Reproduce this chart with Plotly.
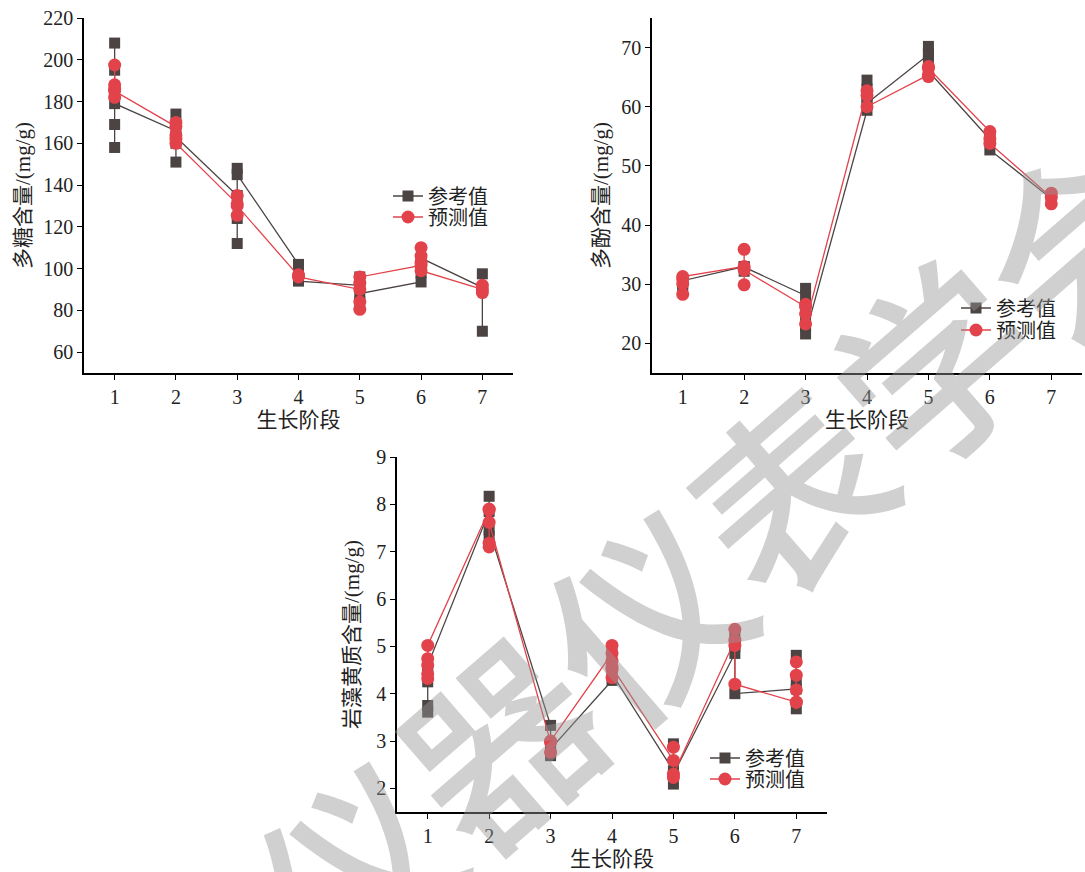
import plotly.graph_objects as go

# ---------------- data ----------------
stages = [1, 2, 3, 4, 5, 6, 7]

# polysaccharide (mg/g): samples per stage, in drawing order
poly_sugar_ref = [[208, 195, 158, 169, 179], [166, 174, 151, 160, 163], [135, 112, 124, 148, 145],
                  [102, 97, 94], [92, 96, 84, 88], [93.6, 98, 102, 105], [91, 97.5, 70, 90]]
poly_sugar_pred = [[182, 197.5, 188, 186, 185], [168, 170, 164, 162, 160], [131, 135, 125.5, 130],
                   [96.5, 97, 96], [90, 84, 80.5, 93, 96], [101.5, 110, 106, 103, 99], [90, 92, 88.5]]

# polyphenol (mg/g)
poly_phenol_ref = [[30.1, 29.5, 30.6], [33.0, 32.2, 32.9], [28.1, 29.3, 26.5, 24.5, 22.8, 21.6],
                   [59.4, 64.5, 63.0, 61.5, 60.6], [68.8, 70.2, 69.0, 67.6, 66.0], [54.5, 55.0, 52.7],
                   [44.5, 44.0]]
poly_phenol_pred = [[28.3, 30.1, 30.9, 31.3], [33.0, 35.9, 29.9, 32.4], [26.2, 26.6, 25.0, 23.3],
                    [62.7, 61.9, 60.0], [65.4, 65.1, 66.8, 66.5], [55.8, 54.6, 53.8], [44.7, 45.4, 43.6]]

# fucoxanthin (mg/g)
fuco_ref = [[4.40, 4.25, 3.75, 3.61, 4.60], [7.85, 8.17, 7.32, 7.46], [3.33, 2.69, 2.76, 2.83],
            [4.28, 4.90, 4.60, 4.42], [2.37, 2.94, 2.09, 2.30], [4.85, 4.99, 5.20, 4.00],
            [4.10, 4.81, 3.68, 4.28]]
fuco_pred = [[4.32, 4.42, 4.60, 4.74, 5.02], [7.88, 7.18, 7.10, 7.90, 7.62], [2.97, 2.76, 3.00],
             [4.85, 5.02, 4.34, 4.50, 4.70, 4.56], [2.59, 2.87, 2.23, 2.30], [5.13, 5.36, 5.02, 4.20],
             [3.82, 4.08, 4.39, 4.67, 3.82]]

series_names = ["参考值", "预测值"]
x_ticks = [1, 2, 3, 4, 5, 6, 7]
y_ticks_sugar = [60, 80, 100, 120, 140, 160, 180, 200, 220]
y_ticks_phenol = [20, 30, 40, 50, 60, 70]
y_ticks_fuco = [2, 3, 4, 5, 6, 7, 8, 9]

# ---------------- style ----------------
W, H = 1085, 872
REF_COLOR = "#4b4442"
PRED_COLOR = "#e2434b"
FONT = "Liberation Serif, Noto Sans CJK SC, serif"


def px_x(p):
    return p / W


def px_y(p):
    return 1 - p / H


def flatten(samples):
    xs, ys = [], []
    for st, vals in zip(stages, samples):
        for v in vals:
            xs.append(st)
            ys.append(v)
    return xs, ys


fig = go.Figure()

panels = [
    (poly_sugar_ref, poly_sugar_pred, "x", "y", "legend", "legend2"),
    (poly_phenol_ref, poly_phenol_pred, "x2", "y2", "legend3", "legend4"),
    (fuco_ref, fuco_pred, "x3", "y3", "legend5", "legend6"),
]
for ref, pred, xa, ya, lg1, lg2 in panels:
    for samples, name, color, sym, size, lg in [
        (ref, series_names[0], REF_COLOR, "square", 11, lg1),
        (pred, series_names[1], PRED_COLOR, "circle", 13, lg2),
    ]:
        xs, ys = flatten(samples)
        fig.add_trace(go.Scatter(
            x=xs, y=ys, mode="lines+markers", name=name,
            line=dict(color=color, width=1.3),
            marker=dict(symbol=sym, size=size, color=color),
            xaxis=xa, yaxis=ya, legend=lg, showlegend=True,
        ))

axis_common = dict(
    showline=True, linecolor="black", linewidth=1.5, mirror=False,
    ticks="outside", ticklen=5, tickwidth=1.3, tickcolor="black",
    showgrid=False, zeroline=False, automargin=False,
    tickfont=dict(family=FONT, size=20, color="#222"),
)
title_font = dict(family=FONT, size=21, color="#222")

layout = dict(
    template="none",
    width=W, height=H, margin=dict(l=0, r=0, t=0, b=0, pad=0),
    paper_bgcolor="white", plot_bgcolor="white",
    font=dict(family=FONT),
)

# panel 1
layout["xaxis"] = dict(axis_common, domain=[px_x(84), px_x(513)], range=[0.5, 7.5], tickvals=x_ticks,
                       anchor="y", title=dict(text="生长阶段", font=title_font, standoff=0))
layout["yaxis"] = dict(axis_common, domain=[px_y(373), px_y(18)], range=[50, 220], tickvals=y_ticks_sugar,
                       anchor="x", title=dict(text="多糖含量/(mg/g)", font=title_font, standoff=7))
# panel 2
layout["xaxis2"] = dict(axis_common, domain=[px_x(652), px_x(1082)], range=[0.5, 7.5], tickvals=x_ticks,
                        anchor="y2", title=dict(text="生长阶段", font=title_font, standoff=2))
layout["yaxis2"] = dict(axis_common, domain=[px_y(373), px_y(18)], range=[15, 75], tickvals=y_ticks_phenol,
                        anchor="x2", title=dict(text="多酚含量/(mg/g)", font=title_font, standoff=7))
# panel 3
layout["xaxis3"] = dict(axis_common, domain=[px_x(397), px_x(827)], range=[0.5, 7.5], tickvals=x_ticks,
                        anchor="y3", title=dict(text="生长阶段", font=title_font, standoff=5))
layout["yaxis3"] = dict(axis_common, domain=[px_y(812), px_y(457)], range=[1.5, 9], tickvals=y_ticks_fuco,
                        anchor="x3", title=dict(text="岩藻黄质含量/(mg/g)", font=title_font, standoff=11))

leg_font = dict(family=FONT, size=20, color="#222")
legend_pos = {
    "legend": (388, 196), "legend2": (388, 217),
    "legend3": (956, 308), "legend4": (956, 330),
    "legend5": (705, 758), "legend6": (705, 779),
}
for key, (lx, ly) in legend_pos.items():
    layout[key] = dict(x=px_x(lx), y=px_y(ly), xanchor="left", yanchor="middle",
                       bgcolor="rgba(0,0,0,0)", borderwidth=0, font=leg_font,
                       itemsizing="trace")

fig.update_layout(**layout)

# faint journal watermark
fig.add_annotation(
    text="仪器仪表学会", x=px_x(712), y=px_y(548), xref="paper", yref="paper",
    showarrow=False, textangle=-41,
    font=dict(family="Noto Sans CJK SC", size=192, color="rgba(150,150,150,0.45)", weight=500),
)

fig.write_html(
    "out.html",
    config={"displayModeBar": False},
    post_script="document.body.style.margin='0';document.body.style.overflow='hidden';",
)
